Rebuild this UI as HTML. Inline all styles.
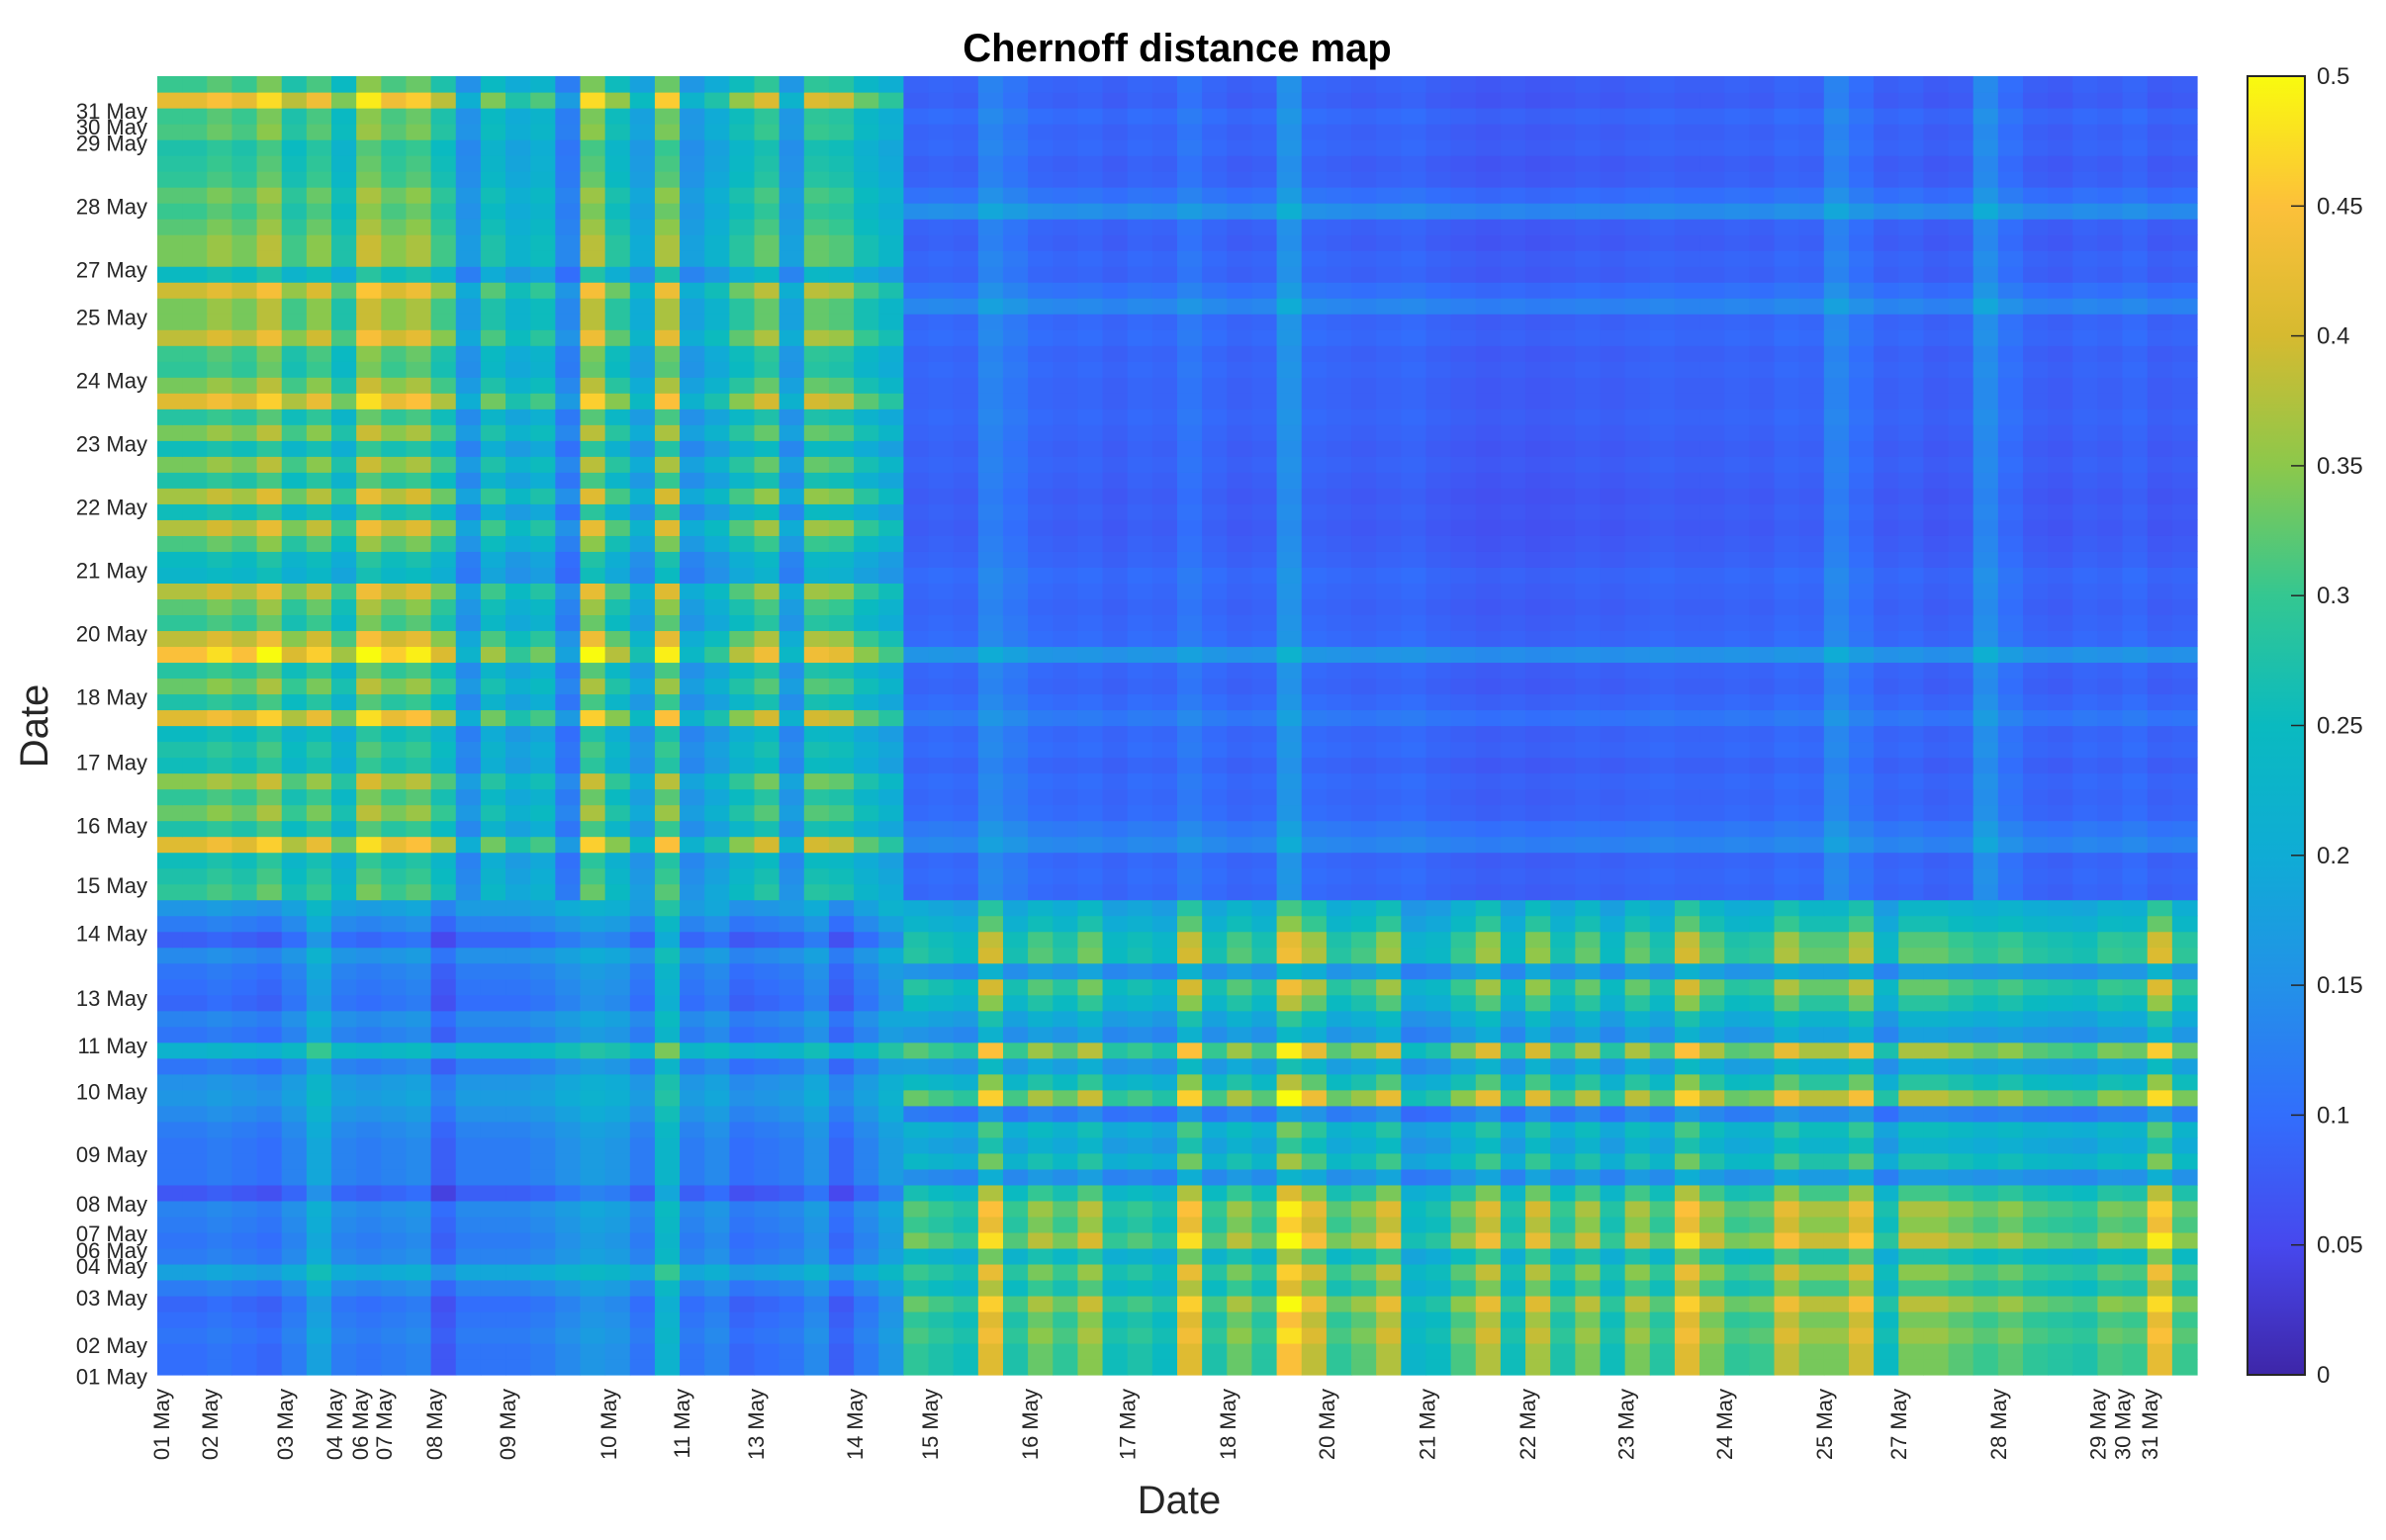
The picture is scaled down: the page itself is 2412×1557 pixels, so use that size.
<!DOCTYPE html>
<html>
<head>
<meta charset="utf-8">
<style>
html,body{margin:0;padding:0;background:#fff;}
svg{display:block;}
text{font-family:"Liberation Sans",sans-serif;fill:#262626;}
</style>
</head>
<body>
<svg id="chart" width="2412" height="1557" viewBox="0 0 2412 1557" xmlns="http://www.w3.org/2000/svg">
  <text x="1190" y="62" text-anchor="middle" font-size="40" font-weight="bold" style="fill:#000">Chernoff distance map</text>
  <g id="cells"></g>
  <g id="xticks"></g>
  <g id="yticks"></g>
  <text x="1192" y="1530" text-anchor="middle" font-size="40">Date</text>
  <text transform="translate(48,734) rotate(-90)" text-anchor="middle" font-size="40">Date</text>
  <defs>
    <linearGradient id="parula" x1="0" y1="1" x2="0" y2="0"></linearGradient>
  </defs>
  <g id="cbar"></g>
</svg>
<script>
// ---- data ----
// Sample groups: first 30 samples = 01-14 May, next 52 = 15-31 May
const crossRow = [0.32,0.32,0.34,0.32,0.36,0.29,0.33,0.26,0.37,0.33,0.35,0.29,0.16,0.26,0.21,0.24,0.13,0.36,0.27,0.19,0.35,0.17,0.21,0.27,0.31,0.17,0.31,0.30,0.25,0.22];
const crossCol = [0.32,0.30,0.28,0.45,0.30,0.36,0.32,0.38,0.28,0.30,0.27,0.45,0.30,0.36,0.31,0.49,0.42,0.32,0.35,0.41,0.25,0.27,0.34,0.41,0.28,0.40,0.30,0.37,0.28,0.37,0.31,0.45,0.37,0.32,0.33,0.42,0.37,0.37,0.43,0.27,0.37,0.37,0.35,0.33,0.35,0.32,0.31,0.30,0.34,0.33,0.46,0.33];
const withinA = [0.10,0.10,0.11,0.10,0.09,0.12,0.18,0.12,0.11,0.12,0.13,0.07,0.11,0.11,0.11,0.12,0.14,0.16,0.15,0.11,0.22,0.11,0.13,0.09,0.10,0.11,0.14,0.08,0.12,0.16];
const withinB = [0.045,0.05,0.045,0.09,0.07,0.05,0.045,0.05,0.04,0.05,0.045,0.07,0.05,0.04,0.045,0.11,0.05,0.045,0.04,0.045,0.05,0.04,0.035,0.03,0.035,0.03,0.035,0.04,0.035,0.04,0.045,0.04,0.04,0.045,0.04,0.05,0.045,0.09,0.06,0.04,0.045,0.035,0.04,0.10,0.06,0.04,0.035,0.045,0.04,0.05,0.035,0.04];
const xTickLabels = ["01 May","02 May","03 May","04 May","06 May","07 May","08 May","09 May","10 May","11 May","13 May","14 May","15 May","16 May","17 May","18 May","20 May","21 May","22 May","23 May","24 May","25 May","27 May","28 May","29 May","30 May","31 May"];
const xTickAt = [0.16,2.11,5.13,7.12,8.15,9.11,11.13,14.07,18.13,21.07,24.06,28.04,31.06,35.07,39.0,43.02,47.0,51.05,55.07,59.04,63.0,67.0,70.0,74.0,78.0,79.0,80.1];
const yTickLabels = xTickLabels;
const yTickAt = [-0.1,1.87,4.87,6.87,7.87,8.93,10.8,13.93,17.9,20.8,23.8,27.9,30.9,34.7,38.7,42.8,46.8,50.8,54.8,58.8,62.8,66.8,69.8,73.8,77.8,78.8,79.8];
const cbarTicks = [0,0.05,0.1,0.15,0.2,0.25,0.3,0.35,0.4,0.45,0.5];

// ---- layout ----
const NA = crossRow.length, NB = crossCol.length, N = NA + NB;
const L = 159, R = 2221, T = 77, B = 1390;
const cw = (R - L) / N, ch = (B - T) / N;
const xPos = k => L + k * cw;
const yPos = k => B - k * ch;
const NS = "http://www.w3.org/2000/svg";

const stops = [[0,[62,38,168]],[0.1,[71,72,238]],[0.2,[50,110,252]],[0.3,[35,145,232]],[0.4,[15,172,213]],[0.5,[10,186,192]],[0.6,[52,199,145]],[0.7,[140,200,75]],[0.8,[214,186,48]],[0.9,[252,192,58]],[1,[249,251,14]]];
function cmap(v){
  let t = Math.max(0, Math.min(1, v / 0.5));
  for (let s = 0; s < stops.length - 1; s++){
    const [t0,c0] = stops[s], [t1,c1] = stops[s+1];
    if (t <= t1){
      const f = (t - t0) / (t1 - t0);
      return "rgb(" + c0.map((c,i)=>Math.round(c + (c1[i]-c)*f)).join(",") + ")";
    }
  }
  return "rgb(249,251,14)";
}
function value(i, j){
  const aI = i < NA, aJ = j < NA;
  if (aI && aJ) return withinA[i] + withinA[j] - 0.1;
  if (!aI && !aJ) return withinB[i-NA] + withinB[j-NA];
  const a = aI ? i : j, b = aI ? j - NA : i - NA;
  return crossRow[a] * crossCol[b] / 0.35;
}

const cells = document.getElementById("cells");
for (let i = 0; i < N; i++){
  for (let j = 0; j < N; j++){
    const r = document.createElementNS(NS, "rect");
    
    
    r.setAttribute("x", xPos(j).toFixed(2));
    r.setAttribute("y", yPos(i+1).toFixed(2));
    r.setAttribute("width", (cw + 0.6).toFixed(2));
    r.setAttribute("height", (ch + 0.6).toFixed(2));
    r.setAttribute("fill", cmap(value(i, j)));
    cells.appendChild(r);
  }
}

const xg = document.getElementById("xticks");
xTickLabels.forEach((lab, k) => {
  const t = document.createElementNS(NS, "text");
  
  
  const x = xPos(xTickAt[k]) + 8;
  t.setAttribute("transform", "translate(" + x.toFixed(1) + ",1404) rotate(-90)");
  t.setAttribute("text-anchor", "end");
  t.setAttribute("font-size", "22");
  t.textContent = lab;
  xg.appendChild(t);
});

const yg = document.getElementById("yticks");
yTickLabels.forEach((lab, k) => {
  const t = document.createElementNS(NS, "text");
  
  
  t.setAttribute("x", "149");
  t.setAttribute("y", (yPos(yTickAt[k]) + 8).toFixed(1));
  t.setAttribute("text-anchor", "end");
  t.setAttribute("font-size", "22");
  t.textContent = lab;
  yg.appendChild(t);
});

// colorbar
const grad = document.getElementById("parula");
stops.forEach(s => {
  const st = document.createElementNS(NS, "stop");
  st.setAttribute("offset", s[0]);
  st.setAttribute("stop-color", "rgb(" + s[1].join(",") + ")");
  grad.appendChild(st);
});
const cb = document.getElementById("cbar");
const CX = 2272, CW = 58;
const cy = v => B - (v / 0.5) * (B - T);
const bar = document.createElementNS(NS, "rect");


bar.setAttribute("x", CX); bar.setAttribute("y", T);
bar.setAttribute("width", CW); bar.setAttribute("height", B - T);
bar.setAttribute("fill", "url(#parula)");
bar.setAttribute("stroke", "#262626"); bar.setAttribute("stroke-width", "2");
cb.appendChild(bar);
cbarTicks.forEach(v => {
  const y = cy(v);
  const tk = document.createElementNS(NS, "line");
  
  
  tk.setAttribute("x1", CX + CW - 14); tk.setAttribute("x2", CX + CW);
  tk.setAttribute("y1", y); tk.setAttribute("y2", y);
  tk.setAttribute("stroke", "#262626"); tk.setAttribute("stroke-width", "1.5");
  cb.appendChild(tk);
  const t = document.createElementNS(NS, "text");
  
  
  t.setAttribute("x", CX + CW + 12);
  t.setAttribute("y", (y + 8).toFixed(1));
  t.setAttribute("font-size", "24");
  t.textContent = String(v);
  cb.appendChild(t);
});
</script>
</body>
</html>
